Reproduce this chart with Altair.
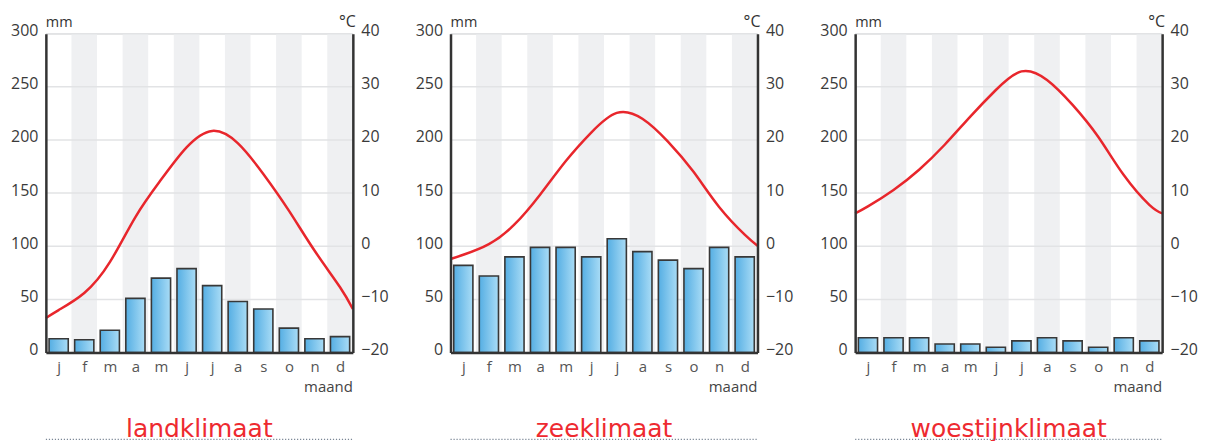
import altair as alt
import pandas as pd

# ---------------- data ----------------
months = ["j", "f", "m", "a", "m", "j", "j", "a", "s", "o", "n", "d"]
month_num = list(range(1, 13))
band_months = [2, 4, 6, 8, 10, 12]
titles = ["landklimaat", "zeeklimaat", "woestijnklimaat"]

prec_land = [13, 12, 21, 51, 70, 79, 63, 48, 41, 23, 13, 15]
prec_zee = [82, 72, 90, 99, 99, 90, 107, 95, 87, 79, 99, 90]
prec_woestijn = [14, 14, 14, 8, 8, 5, 11, 14, 11, 5, 14, 11]

# temperature read at left edge, month centres, right edge
temp_pos = [0.5] + month_num + [12.5]
temp_land = [-13.5, -12.0, -8.8, -3.0, 5.5, 12.5, 18.6, 21.7, 19.4, 13.6, 6.7, -0.8, -7.7, -11.8]
temp_zee = [-2.4, -1.6, 0.4, 4.1, 9.7, 16.0, 21.4, 25.1, 24.0, 19.7, 14.0, 7.4, 2.2, 0.1]
temp_woestijn = [6.2, 7.5, 10.6, 14.4, 19.1, 24.4, 29.4, 32.9, 31.3, 26.6, 20.6, 13.4, 7.8, 6.2]

mm_ticks = [0, 50, 100, 150, 200, 250, 300]
c_ticks = [-20, -10, 0, 10, 20, 30, 40]

# ---------------- style ----------------
W, H = 308, 320
AXIS_COL = "#333333"
LABEL_FONT = "Open Sans"

month_expr = "[" + ",".join(f"'{m}'" for m in months) + "][datum.value - 1]"

x_scale = alt.Scale(domain=[0.5, 12.5], nice=False, zero=False)
x_axis = alt.Axis(values=month_num, labelExpr=month_expr, title=None, grid=False,
                  ticks=False, domainColor=AXIS_COL, domainWidth=2.5,
                  labelFont=LABEL_FONT, labelFontSize=15, labelColor="#555555",
                  labelPadding=7, labelFlush=False, zindex=1)
mm_scale = alt.Scale(domain=[0, 300], nice=False, zero=True)
mm_axis = alt.Axis(values=mm_ticks, title=None, grid=False, ticks=False,
                   domainColor=AXIS_COL, domainWidth=2.5, labelFont=LABEL_FONT,
                   labelFontSize=16, labelColor="#3a3a3a", labelPadding=8,
                   labelBaseline="middle", labelOffset=-3, zindex=1)
c_scale = alt.Scale(domain=[-20, 40], nice=False, zero=False)
c_axis = alt.Axis(values=c_ticks, title=None, grid=False, ticks=False, orient="right",
                  domainColor=AXIS_COL, domainWidth=2.5, labelFont=LABEL_FONT,
                  labelFontSize=16, labelColor="#3a3a3a", labelPadding=8,
                  labelBaseline="middle", labelOffset=-3, zindex=1)

bar_fill = alt.Gradient(
    gradient="linear",
    stops=[alt.GradientStop(color="#55aee3", offset=0),
           alt.GradientStop(color="#a9dcf6", offset=1)],
    x1=0, x2=1, y1=0, y2=0,
)


def text_layer(txt, **kw):
    pos = {k: kw.pop(k) for k in ("x", "y")}
    return alt.Chart(pd.DataFrame({"t": [txt]})).mark_text(**kw).encode(
        text="t:N", x=alt.value(pos["x"]), y=alt.value(pos["y"]))


def panel(prec, temps, title):
    bars_df = pd.DataFrame({"month": month_num, "prec": prec})
    temp_df = pd.DataFrame({"pos": temp_pos, "temp": temps})
    band_df = pd.DataFrame({"month": band_months})
    grid_df = pd.DataFrame({"v": mm_ticks[1:]})

    bands = alt.Chart(band_df).mark_rect(color="#eff0f2").transform_calculate(
        lo="datum.month - 0.5", hi="datum.month + 0.5"
    ).encode(x=alt.X("lo:Q", scale=x_scale, axis=x_axis), x2="hi:Q")

    grid = alt.Chart(grid_df).mark_rule(color="#e2e3e5", strokeWidth=1.5).encode(
        y=alt.Y("v:Q", scale=mm_scale, axis=mm_axis))

    bars = alt.Chart(bars_df).mark_rect(fill=bar_fill, stroke="#383838",
                                        strokeWidth=1.6).transform_calculate(
        lo="datum.month - 0.375", hi="datum.month + 0.375", base="0"
    ).encode(x=alt.X("lo:Q", scale=x_scale, axis=x_axis), x2="hi:Q",
             y=alt.Y("prec:Q", scale=mm_scale, axis=mm_axis), y2="base:Q")

    left = alt.layer(bands, grid, bars)

    line = alt.Chart(temp_df).mark_line(color="#e8262c", strokeWidth=2.5,
                                        interpolate="natural").encode(
        x=alt.X("pos:Q", scale=x_scale, axis=x_axis),
        y=alt.Y("temp:Q", scale=c_scale, axis=c_axis))

    mm_t = text_layer("mm", x=0, y=-7, align="left", baseline="alphabetic",
                      font=LABEL_FONT, fontSize=14.5, color="#333333")
    c_t = text_layer("°C", x=W + 3, y=-7, align="right", baseline="alphabetic",
                     font=LABEL_FONT, fontSize=16, color="#333333")
    maand_t = text_layer("maand", x=W, y=H + 40, align="right", baseline="alphabetic",
                         font=LABEL_FONT, fontSize=15, color="#444444")
    title_t = text_layer(title, x=W / 2, y=H + 85, align="center",
                         baseline="alphabetic", font="DejaVu Sans", fontSize=25,
                         color="#ee2a30")
    dots = alt.Chart(pd.DataFrame({"t": [0]})).mark_rule(
        color="#7b8796", strokeWidth=1.3, strokeDash=[1.2, 1.8]).encode(
        x=alt.value(0), x2=alt.value(W), y=alt.value(H + 87))

    return alt.layer(left, line, mm_t, c_t, maand_t, title_t, dots).resolve_scale(
        y="independent").properties(width=W, height=H)


chart = alt.hconcat(
    panel(prec_land, temp_land, titles[0]),
    panel(prec_zee, temp_zee, titles[1]),
    panel(prec_woestijn, temp_woestijn, titles[2]),
    spacing=98, bounds="flush",
).properties(
    padding={"left": 2, "top": 4, "right": 2, "bottom": 2}
).configure_view(stroke=None).configure(background="white")

chart.save("out.html", embed_options={"renderer": "svg", "actions": False})
